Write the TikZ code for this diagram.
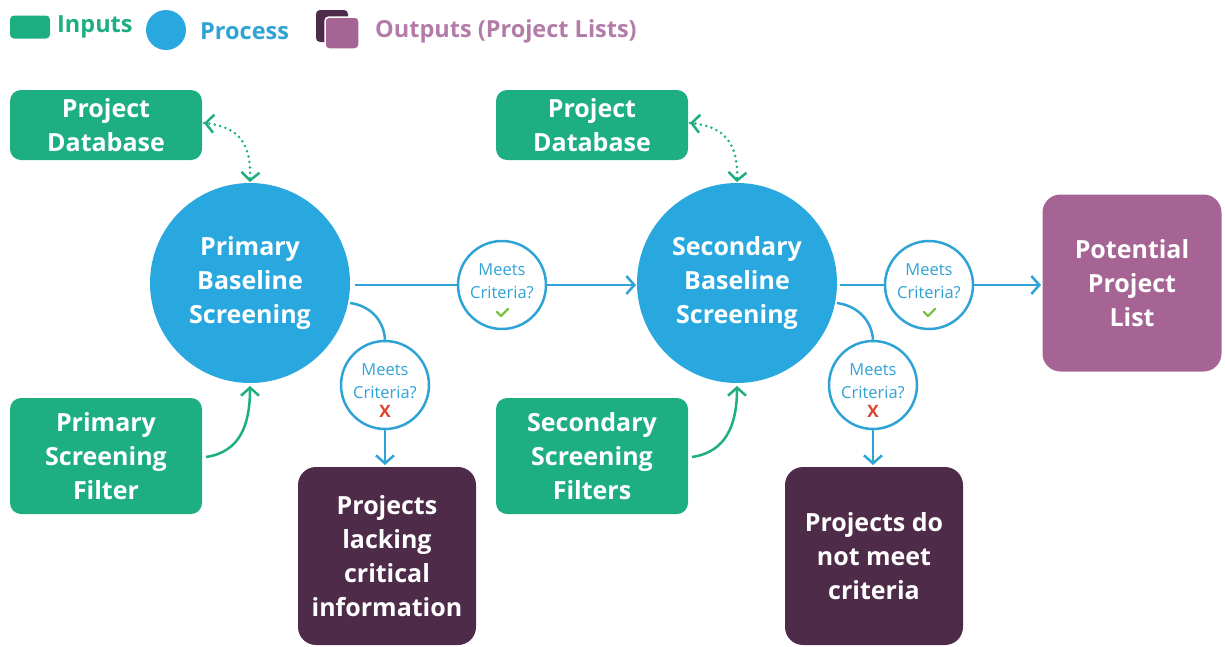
\documentclass[tikz,border=0pt]{standalone}
\usepackage{fontspec}
\setmainfont{Open Sans}
\usetikzlibrary{arrows.meta}
\definecolor{ingreen}{HTML}{1DAF82}
\definecolor{procblue}{HTML}{29A8E0}
\definecolor{lineblue}{HTML}{2FA3D6}
\definecolor{darkpurp}{HTML}{4E2C49}
\definecolor{outpurp}{HTML}{A56493}
\definecolor{legpurp}{HTML}{B37CA8}
\definecolor{okgreen}{HTML}{7DC242}
\definecolor{nored}{HTML}{E0402B}
\tikzset{
  bigtxt/.style={font=\bfseries\fontsize{25}{34}\selectfont, align=center, text=white, inner sep=0pt},
  inbox/.style={bigtxt, fill=ingreen, rounded corners=11pt, minimum width=192pt},
  outbox/.style={bigtxt, fill=darkpurp, rounded corners=18pt, minimum width=178pt, minimum height=178pt},
  proc/.style={bigtxt, circle, fill=procblue, minimum size=200pt},
  meets/.style={circle, draw=lineblue, line width=2.5pt, fill=white, minimum size=88pt, inner sep=0pt},
  mtxt/.style={font=\fontsize{16.5}{23}\selectfont, text=lineblue, align=center, inner sep=0pt},
  conn/.style={draw=lineblue, line width=2.5pt, -{Straight Barb[length=8pt,width=18pt,line width=2.5pt]}},
  plain/.style={draw=lineblue, line width=2.5pt},
  gconn/.style={draw=ingreen, line width=2.5pt, -{Straight Barb[length=8pt,width=18pt,line width=2.5pt]}},
  dotline/.style={draw=ingreen, line width=2.8pt, dash pattern=on 0pt off 5.5pt, line cap=round},
  legtxt/.style={font=\bfseries\fontsize{23.5}{26}\selectfont, anchor=west, inner sep=0pt}
}
\begin{document}
\begin{tikzpicture}[x=1pt,y=-1pt]
\useasboundingbox (0,0) rectangle (1225,646);
% legend
\node[fill=ingreen, rounded corners=4pt, minimum width=40pt, minimum height=23pt, inner sep=0pt] (legin) at (30,27) {};
\node[legtxt, text=ingreen] (legintxt) at (57,27) {Inputs};
\node[circle, fill=procblue, minimum size=40pt, inner sep=0pt] (legproc) at (166,30) {};
\node[legtxt, text=lineblue] (legproctxt) at (200,31) {Process};
\node[fill=darkpurp, rounded corners=4pt, minimum width=32pt, minimum height=32pt, inner sep=0pt] (legout1) at (332,26) {};
\node[fill=outpurp, draw=white, line width=1.5pt, rounded corners=4pt, minimum width=34pt, minimum height=32pt, inner sep=0pt] (legout2) at (342,33) {};
\node[legtxt, text=legpurp] (legouttxt) at (375,31) {Outputs (Project Lists)};

% inputs
\node[inbox, minimum height=70pt] (db1) at (106,125) {Project\\Database};
\node[inbox, minimum height=116pt] (f1) at (106,456) {Primary\\Screening\\Filter};
\node[inbox, minimum height=70pt] (db2) at (592,125) {Project\\Database};
\node[inbox, minimum height=116pt] (f2) at (592,456) {Secondary\\Screening\\Filters};

% processes
\node[proc] (p1) at (250,283) {Primary\\Baseline\\Screening};
\node[proc] (p2) at (737,283) {Secondary\\Baseline\\Screening};

% outputs
\node[outbox] (o1) at (387,556) {Projects\\lacking\\critical\\information};
\node[outbox] (o2) at (874,556) {Projects do\\not meet\\criteria};
\node[bigtxt, fill=outpurp, rounded corners=18pt, minimum width=179pt, minimum height=177pt] (o3) at (1132,283) {Potential\\Project\\List};

% meets circles
\node[meets] (m1) at (502,285) {};
\node[meets] (m2) at (385,385) {};
\node[meets] (m3) at (929,285) {};
\node[meets] (m4) at (873,385) {};
\foreach \m in {m1,m2,m3,m4}{
  \node[mtxt] at ([yshift=4pt]\m.center) {Meets\\Criteria?};
}
\foreach \m in {m1,m3}{
  \draw[okgreen, line width=2.2pt, line cap=round, line join=round]
    ([xshift=-5pt,yshift=-27pt]\m.center) -- ([xshift=-1pt,yshift=-31pt]\m.center) -- ([xshift=6pt,yshift=-24pt]\m.center);
}
\foreach \m in {m2,m4}{
  \node[font=\bfseries\fontsize{17}{17}\selectfont, text=nored, inner sep=0pt] at ([yshift=-26pt]\m.center) {X};
}

% connectors (blue)
\coordinate (p1r) at (355,285);
\coordinate (p2l) at (636,285);
\draw[plain] (p1r) -- (m1.west);
\draw[conn] (m1.east) -- (p2l);
\coordinate (p2r) at (840,285);
\coordinate (o3l) at (1041,285);
\draw[plain] (p2r) -- (m3.west);
\draw[conn] (m3.east) -- (o3l);

\coordinate (p1b) at (350,303);
\coordinate (p2b) at (837,303);
\draw[plain] (p1b) .. controls (372,306) and (384,322) .. (m2.north);
\draw[plain] (p2b) .. controls (859,306) and (872,322) .. (m4.north);
\coordinate (o1t) at (385,465);
\coordinate (o2t) at (873,465);
\draw[conn] (m2.south) -- (o1t);
\draw[conn] (m4.south) -- (o2t);

% green dotted two-way connectors
\coordinate (db1e) at (204,123);
\coordinate (db1s) at (208,123.3);
\coordinate (p1t) at (250,182);
\coordinate (p1ts) at (250.2,178);
\draw[dotline] (db1e) .. controls (240,126) and (252,145) .. (p1t);
\draw[gconn] (db1s) -- (db1e);
\draw[gconn] (p1ts) -- (p1t);
\coordinate (db2e) at (690,123);
\coordinate (db2s) at (694,123.3);
\coordinate (p2t) at (737,182);
\coordinate (p2ts) at (737.2,178);
\draw[dotline] (db2e) .. controls (726,126) and (739,145) .. (p2t);
\draw[gconn] (db2s) -- (db2e);
\draw[gconn] (p2ts) -- (p2t);

% green solid connectors
\coordinate (f1e) at (206,457);
\coordinate (p1bb) at (250,386);
\draw[gconn] (f1e) .. controls (240,452) and (250,425) .. (p1bb);
\coordinate (f2e) at (692,457);
\coordinate (p2bb) at (737,386);
\draw[gconn] (f2e) .. controls (726,452) and (737,425) .. (p2bb);
\end{tikzpicture}
\end{document}
